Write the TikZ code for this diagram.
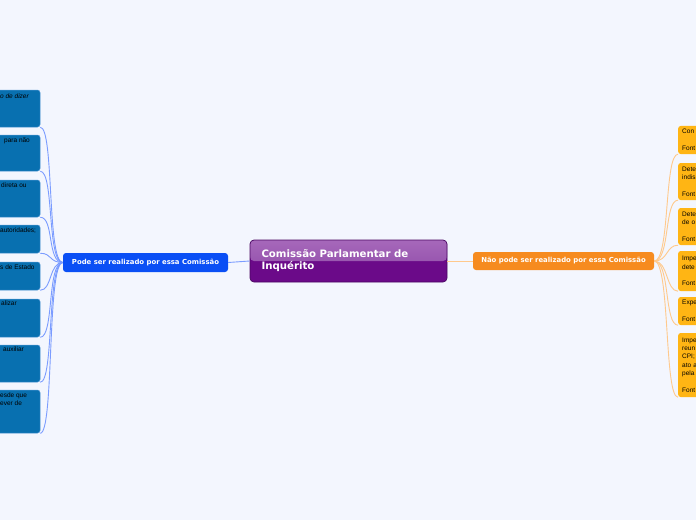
\documentclass[tikz,border=0pt]{standalone}
\usepackage{fontspec}
\setmainfont{Liberation Sans}
\newfontfamily\mapfont{DejaVu Sans}
\usepackage{xcolor}
\usetikzlibrary{positioning, calc}

\definecolor{pagebg}{HTML}{F3F6FE}
\definecolor{cpidark}{HTML}{6B0A89}
\definecolor{cpitop}{HTML}{A668BA}
\definecolor{cpimid}{HTML}{8C46A6}
\definecolor{cpiline}{HTML}{4A0762}
\definecolor{podeblue}{HTML}{0A4FF5}
\definecolor{naoorange}{HTML}{F68B1F}
\definecolor{lbfill}{HTML}{0870B0}
\definecolor{lbline}{HTML}{4C95D4}
\definecolor{rbfill}{HTML}{FFB514}
\definecolor{bluelink}{HTML}{7B9CFF}
\definecolor{orangelink}{HTML}{FFC98C}

\begin{document}
\begin{tikzpicture}[
        x=1pt, y=-1pt,
        % central topic
        cpibox/.style={
            rectangle, rounded corners=4pt, draw=cpiline, line width=0.7pt,
            fill=cpidark, minimum width=197pt, minimum height=42pt,
            text width=174pt, align=left, text=white,
            font=\mapfont\bfseries\fontsize{10.2}{12}\selectfont,
            path picture={
                \shade[top color=cpitop, bottom color=cpimid]
                    (path picture bounding box.north west) rectangle (path picture bounding box.east);
            }
        },
        % main branches
        branchbox/.style={
            rectangle, rounded corners=3pt, text=white, inner sep=0pt,
            font=\mapfont\bfseries\fontsize{6.9}{8}\selectfont
        },
        % sub topics
        lbox/.style={
            rectangle, rounded corners=2.5pt, fill=lbfill, draw=lbline,
            line width=0.5pt, minimum width=60pt
        },
        lbtext/.style={anchor=north west, inner sep=0pt, align=left,
            font=\fontsize{6.5}{8}\selectfont},
        rbox/.style={
            rectangle, rounded corners=2.5pt, fill=rbfill, anchor=west,
            minimum width=42pt, text width=34pt, inner xsep=4pt, align=left,
            font=\fontsize{6.5}{8.4}\selectfont
        },
        lcurve/.style={draw=bluelink, line width=0.9pt},
        rcurve/.style={draw=orangelink, line width=0.9pt}
    ]

    % background
    \fill[pagebg] (0,0) rectangle (696,520);
    \useasboundingbox (0,0) rectangle (696,520);

    % ==========================
    % CENTRAL TOPIC
    % ==========================
    \node[cpibox] (cpi) at (348.5, 261) {Comissão Parlamentar de\\Inquérito};

    \node[branchbox, fill=podeblue, minimum width=165pt, minimum height=19pt]
        (pode) at (145.5, 262.5) {Pode ser realizado por essa Comissão};
    \node[branchbox, fill=naoorange, minimum width=181pt, minimum height=18pt]
        (nao) at (563.5, 261) {Não pode ser realizado por essa Comissão};

    \draw[lcurve] (cpi.west) -- (pode.east);
    \draw[rcurve] (cpi.east) -- (nao.west);

    % ==========================
    % LEFT SIDE (cut by the page)
    % ==========================
    \node[lbox, minimum height=37pt] (lb1) at (10, 108.5) {};
    \node[lbox, minimum height=36pt] (lb2) at (10, 153)   {};
    \node[lbox, minimum height=37pt] (lb3) at (10, 198.5) {};
    \node[lbox, minimum height=28pt] (lb4) at (10, 239)   {};
    \node[lbox, minimum height=28pt] (lb5) at (10, 276)   {};
    \node[lbox, minimum height=38pt] (lb6) at (10, 318)   {};
    \node[lbox, minimum height=37pt] (lb7) at (10, 363.5) {};
    \node[lbox, minimum height=43pt] (lb8) at (10, 411.5) {};

    \node[lbtext] (lt1) at (0, 93.5)  {\itshape o de dizer};
    \node[lbtext] (lt2) at (4, 137.5) {para não};
    \node[lbtext] (lt3) at (1, 182.5) {direta ou};
    \node[lbtext] (lt4) at (0, 227.5) {autoridades;};
    \node[lbtext] (lt5) at (0, 264.5) {s de Estado};
    \node[lbtext] (lt6) at (1, 300.5) {alizar};
    \node[lbtext] (lt7) at (3, 346.5) {auxiliar};
    \node[lbtext] (lt8) at (0, 392.5) {esde que\\ever de};

    \draw[lcurve] (pode.west) .. controls +(-16,0) and +(14,0) .. (lb1.south east);
    \draw[lcurve] (pode.west) .. controls +(-16,0) and +(14,0) .. (lb2.south east);
    \draw[lcurve] (pode.west) .. controls +(-16,0) and +(14,0) .. (lb3.south east);
    \draw[lcurve] (pode.west) .. controls +(-14,0) and +(12,0) .. (lb4.south east);
    \draw[lcurve] (pode.west) .. controls +(-14,0) and +(12,0) .. (lb5.south east);
    \draw[lcurve] (pode.west) .. controls +(-16,0) and +(14,0) .. (lb6.south east);
    \draw[lcurve] (pode.west) .. controls +(-16,0) and +(14,0) .. (lb7.south east);
    \draw[lcurve] (pode.west) .. controls +(-16,0) and +(14,0) .. (lb8.south east);

    % ==========================
    % RIGHT SIDE (cut by the page)
    % ==========================
    \node[rbox, minimum height=28pt] (rb1) at (678, 140)   {Con\\[8.4pt]Font};
    \node[rbox, minimum height=37pt] (rb2) at (678, 181.5) {Dete\\indis\\[8.4pt]Font};
    \node[rbox, minimum height=37pt] (rb3) at (678, 226.5) {Dete\\de o\\[8.4pt]Font};
    \node[rbox, minimum height=40pt] (rb4) at (678, 271)   {Impe\\dete\\[8.4pt]Font};
    \node[rbox, minimum height=28pt] (rb5) at (678, 311)   {Expe\\[8.4pt]Font};
    \node[rbox, minimum height=64pt] (rb6) at (678, 365)   {Impe\\reun\\CPI;\\ato a\\pela\\[8.4pt]Font};

    \draw[rcurve] (nao.east) .. controls +(16,0) and +(-14,0) .. (rb1.south west);
    \draw[rcurve] (nao.east) .. controls +(16,0) and +(-14,0) .. (rb2.south west);
    \draw[rcurve] (nao.east) .. controls +(14,0) and +(-12,0) .. (rb3.south west);
    \draw[rcurve] (nao.east) .. controls +(14,0) and +(-12,0) .. (rb4.south west);
    \draw[rcurve] (nao.east) .. controls +(16,0) and +(-14,0) .. (rb5.south west);
    \draw[rcurve] (nao.east) .. controls +(16,0) and +(-14,0) .. (rb6.south west);

\end{tikzpicture}
\end{document}
